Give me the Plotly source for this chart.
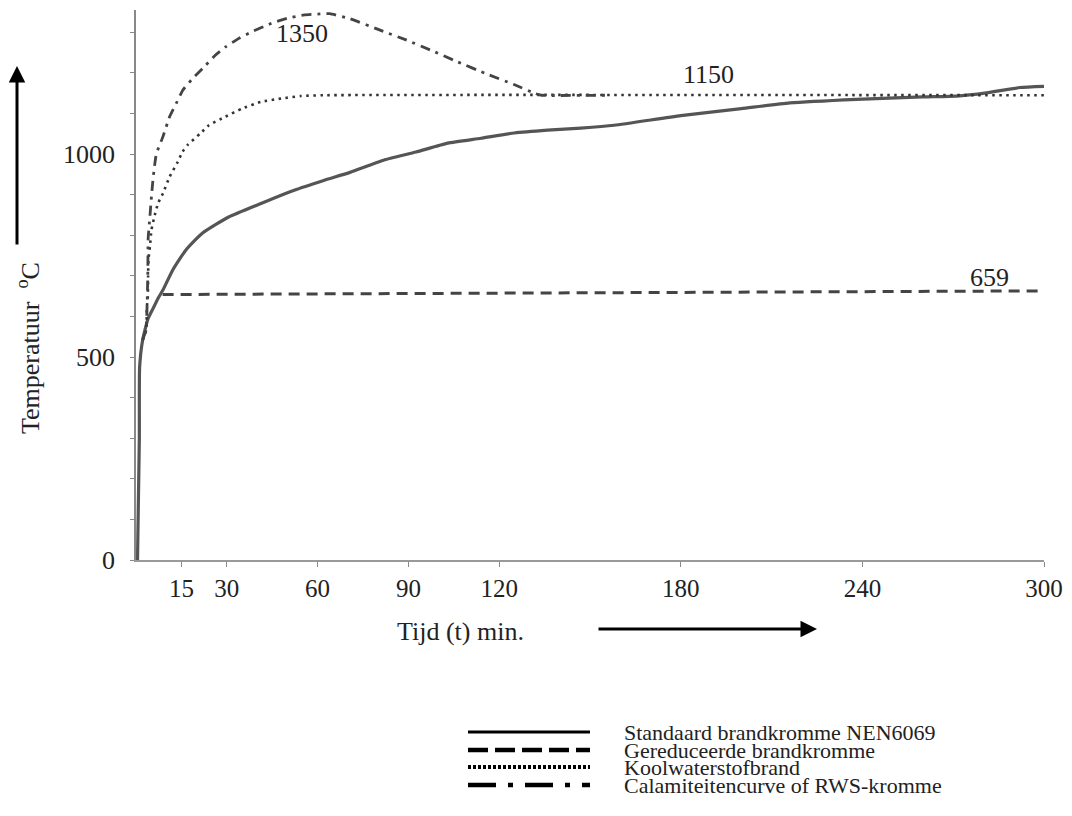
import plotly.graph_objects as go

# ---- data ----
t_std = [0.5, 0.8, 1.1, 1.2, 2.2, 4, 6, 7.3, 8.9, 12.1, 16.5, 21.9, 30.6, 41.5, 52.3, 62,
         70.7, 81.8, 92.5, 103, 114, 125, 136, 147, 158, 180, 200, 216, 238, 260, 271, 281, 292, 300]
T_std = [0, 150, 300, 475, 542, 595, 625, 645, 665, 714, 764, 805, 845, 879, 911, 935,
         955, 985, 1005, 1027, 1039, 1052, 1059, 1064, 1071, 1095, 1112, 1126, 1135, 1141, 1143, 1151, 1164, 1167]

t_red = [8.8, 300]
T_red = [654, 663]

t_hc = [2.2, 3.4, 3.6, 3.9, 4.0, 4.1, 4.6, 5.1, 6.2, 7.3, 8.9, 11.1, 13.8, 15.4, 17, 21.4,
        24.1, 29.5, 35, 41.5, 48, 54.5, 62, 300]
T_hc = [542, 567, 624, 648, 698, 739, 772, 813, 850, 879, 903, 944, 981, 1006, 1022, 1052,
        1071, 1092, 1112, 1129, 1137, 1143, 1145, 1145]

t_rws = [2.2, 3.3, 3.9, 4.0, 4.6, 5.1, 5.7, 6.7, 8.9, 11.1, 13.3, 15.5, 18.7, 22, 26.3, 29.6,
         34, 38.2, 44.7, 50.2, 55.6, 60, 64, 70.5, 81.5, 89, 97.7, 106, 116, 124.7, 132, 134, 155]
T_rws = [542, 567, 700, 790, 846, 895, 944, 1000, 1043, 1092, 1125, 1158, 1186, 1211, 1244, 1264,
         1285, 1301, 1322, 1335, 1343, 1345, 1346, 1334, 1303, 1282, 1255, 1228, 1197, 1172, 1149, 1145, 1145]

x_ticks = [15, 30, 60, 90, 120, 180, 240, 300]
y_ticks = list(range(0, 1301, 100))
y_labels = ["0", "500", "1000"]

legend_names = ["Standaard brandkromme NEN6069", "Gereduceerde brandkromme",
                "Koolwaterstofbrand", "Calamiteitencurve of RWS-kromme"]

curve_labels = [("1350", 55, 1298), ("1150", 189, 1197), ("659", 282, 695)]

# ---- figure (page body adds an 8px offset) ----
OFF = 8
W, H = 1056, 800
L, R, T, B = 128, 20, 2, 248
pw, ph = W - L - R, H - T - B
FONT = "Liberation Serif"
TXT = "#222222"


def px(wx):
    return (wx - OFF - L) / pw


def py(wy):
    return 1 - (wy - OFF - T) / ph


fig = go.Figure()
fig.add_trace(go.Scatter(x=t_std, y=T_std, mode="lines", line=dict(color="#555555", width=3.2, shape="spline", smoothing=0.5)))
fig.add_trace(go.Scatter(x=t_red, y=T_red, mode="lines", line=dict(color="#444444", width=3, dash="11px,7px")))
fig.add_trace(go.Scatter(x=t_hc, y=T_hc, mode="lines", line=dict(color="#333333", width=2.6, dash="2.5px,4.5px", shape="spline", smoothing=0.5)))
fig.add_trace(go.Scatter(x=t_rws, y=T_rws, mode="lines", line=dict(color="#444444", width=2.8, dash="10px,6px,3px,6px", shape="spline", smoothing=0.4)))

fig.update_layout(
    width=W, height=H, showlegend=False,
    margin=dict(l=L, r=R, t=T, b=B),
    paper_bgcolor="white", plot_bgcolor="white",
    font=dict(family=FONT, size=26, color=TXT),
    xaxis=dict(range=[0, 300], tickvals=x_ticks, ticktext=[str(v) for v in x_ticks],
               showgrid=False, zeroline=False, showline=True, linecolor="#999999", linewidth=2,
               ticks="outside", ticklen=5, tickcolor="#888888", ticklabelstandoff=0,
               ticklabeloverflow="allow",
               tickfont=dict(family=FONT, size=25, color=TXT)),
    yaxis=dict(range=[0, 1355], tickvals=y_ticks,
               ticktext=[str(v) if str(v) in y_labels else "" for v in y_ticks],
               showgrid=False, zeroline=False, showline=True, linecolor="#888888", linewidth=1.5,
               ticks="outside", ticklen=4, tickcolor="#888888", ticklabelstandoff=10,
               tickfont=dict(family=FONT, size=26, color=TXT)),
)

for txt, xv, yv in curve_labels:
    fig.add_annotation(x=xv, y=yv, xref="x", yref="y", text=txt, showarrow=False,
                       xanchor="center", yanchor="middle",
                       font=dict(family=FONT, size=26, color=TXT))

# axis titles
fig.add_annotation(x=px(460), y=py(631), xref="paper", yref="paper", text="Tijd (t) min.",
                   xanchor="center", yanchor="middle",
                   showarrow=False, font=dict(family=FONT, size=26, color=TXT))
fig.add_annotation(x=px(28), y=py(348), xref="paper", yref="paper",
                   text="Temperatuur  <sup>o</sup>C", textangle=-90,
                   xanchor="center", yanchor="middle",
                   showarrow=False, font=dict(family=FONT, size=26, color=TXT))

# arrows
fig.add_annotation(x=px(17), y=py(66), xref="paper", yref="paper", ax=0, ay=180, text="",
                   showarrow=True, arrowhead=2, arrowsize=1.1, arrowwidth=3, arrowcolor="black")
fig.add_annotation(x=px(817), y=py(629), xref="paper", yref="paper", ax=-220, ay=0, text="",
                   showarrow=True, arrowhead=2, arrowsize=1.1, arrowwidth=3, arrowcolor="black")

# legend (manual)
leg_y = [732, 750, 767, 785]
leg_dash = ["solid", "20px,7px", "3px,2px", "28px,12px,5px,12px"]
leg_w = [3, 4.5, 4, 4.5]
for yy, d, w, name in zip(leg_y, leg_dash, leg_w, legend_names):
    fig.add_shape(type="line", xref="paper", yref="paper", x0=px(468), x1=px(590), y0=py(yy), y1=py(yy),
                  line=dict(color="black", width=w, dash=d))
    fig.add_annotation(x=px(622), y=py(yy), xref="paper", yref="paper", text=name,
                       xanchor="left", yanchor="middle",
                       showarrow=False, font=dict(family=FONT, size=22, color=TXT))

fig.write_html("out.html")
